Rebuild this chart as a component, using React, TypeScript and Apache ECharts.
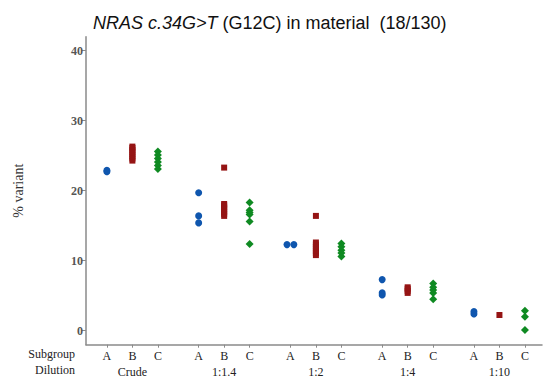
import React, { useEffect, useRef } from "react";
import * as echarts from "echarts";

const dilutions = ["Crude", "1:1.4", "1:2", "1:4", "1:10"];
const subgroups = ["A", "B", "C"];
const yTicks = [0, 10, 20, 30, 40];

// % variant per dilution (index matches dilutions)
const subgroupA: number[][] = [
  [22.7, 22.9],
  [19.7, 16.4, 15.4],
  [12.3, 12.3],
  [7.3, 5.4, 5.1],
  [2.75, 2.4],
];
const subgroupB: number[][] = [
  [24.3, 24.6, 24.9, 25.2, 25.5, 25.8, 26.1, 26.3],
  [23.3, 16.4, 16.7, 17.0, 17.3, 17.6, 17.9, 18.1],
  [16.4, 10.8, 11.1, 11.4, 11.7, 12.0, 12.3, 12.6],
  [5.4, 5.7, 6.0, 6.2],
  [2.24],
];
const subgroupC: number[][] = [
  [25.6, 25.1, 24.6, 24.1, 23.6, 23.1],
  [18.3, 17.2, 16.9, 16.6, 15.6, 12.4],
  [12.45, 12.0, 11.5, 11.1, 10.6],
  [6.75, 6.2, 5.8, 5.4, 4.5],
  [2.86, 2.0, 0.1],
];

const GROUP_STEP = 3.6;
const pos = (g: number, s: number) => g * GROUP_STEP + s;

function buildSeriesData(groups: number[][], s: number) {
  const out: number[][] = [];
  groups.forEach((vals, g) => {
    const seen: Record<string, number> = {};
    vals.forEach((v) => {
      const k = String(v);
      seen[k] = (seen[k] || 0) + 1;
    });
    const used: Record<string, number> = {};
    vals.forEach((v) => {
      const k = String(v);
      const n = seen[k];
      const i = used[k] || 0;
      used[k] = i + 1;
      const off = n > 1 ? (i - (n - 1) / 2) * 0.27 : 0;
      out.push([pos(g, s) + off, v]);
    });
  });
  return out;
}

const subPositions: number[] = [];
const subLabels: string[] = [];
dilutions.forEach((_, g) =>
  subgroups.forEach((sg, s) => {
    subPositions.push(pos(g, s));
    subLabels.push(sg);
  })
);
const dilPositions = dilutions.map((_, g) => pos(g, 1));

const labelFor = (positions: number[], labels: string[]) => (v: number) => {
  let best = -1;
  let bd = 1e9;
  positions.forEach((p, i) => {
    const d = Math.abs(p - v);
    if (d < bd) {
      bd = d;
      best = i;
    }
  });
  return bd < 0.01 ? labels[best] : "";
};

const serif = "'Liberation Serif', 'Times New Roman', serif";

export default function App() {
  const ref = useRef<HTMLDivElement>(null);
  useEffect(() => {
    if (!ref.current) return;
    const chart = echarts.init(ref.current, null, { renderer: "svg" });
    const axisLineStyle = { color: "#8a8a8a", width: 1.5 };
    chart.setOption({
      animation: false,
      backgroundColor: "#ffffff",
      title: {
        text: "{i|NRAS c.34G>T} (G12C) in material  (18/130)",
        left: 88,
        top: 9,
        textStyle: {
          fontFamily: "'Liberation Sans', Arial, sans-serif",
          fontSize: 18,
          fontWeight: "normal",
          color: "#111",
          rich: {
            i: {
              fontFamily: "'Liberation Sans', Arial, sans-serif",
              fontSize: 18,
              fontStyle: "italic",
              color: "#111",
            },
          },
        },
      },
      grid: {
        left: 86,
        right: 2,
        top: 36.7,
        bottom: 33.3,
        containLabel: false,
        outerBoundsMode: "none",
      },
      xAxis: [
        {
          type: "value",
          min: -0.82,
          max: 17.07,
          position: "bottom",
          splitLine: { show: false },
          axisLine: { show: true, onZero: false, lineStyle: axisLineStyle },
          axisTick: {
            show: true,
            length: 3,
            customValues: subPositions,
            lineStyle: { color: "#8a8a8a" },
          },
          axisLabel: {
            customValues: subPositions,
            formatter: labelFor(subPositions, subLabels),
            fontFamily: serif,
            fontSize: 12,
            color: "#222",
            margin: 5,
          },
        },
        {
          type: "value",
          min: -0.82,
          max: 17.07,
          position: "bottom",
          offset: 16,
          splitLine: { show: false },
          axisLine: { show: false },
          axisTick: { show: false },
          axisLabel: {
            customValues: dilPositions,
            formatter: labelFor(dilPositions, dilutions),
            fontFamily: serif,
            fontSize: 12,
            color: "#222",
            margin: 5,
          },
        },
      ],
      yAxis: {
        type: "value",
        min: -2,
        max: 42,
        name: "% variant",
        nameLocation: "middle",
        nameGap: 61,
        nameRotate: 90,
        nameTextStyle: { fontFamily: serif, fontSize: 14, color: "#333" },
        splitLine: { show: false },
        axisLine: { show: true, onZero: false, lineStyle: axisLineStyle },
        axisTick: {
          show: true,
          length: 4,
          customValues: yTicks,
          lineStyle: { color: "#8a8a8a" },
        },
        axisLabel: {
          customValues: yTicks,
          fontFamily: serif,
          fontSize: 12,
          fontWeight: "bold",
          color: "#555",
          margin: 3,
        },
      },
      graphic: [
        {
          type: "text",
          right: 544 - 75,
          top: 348,
          style: {
            text: "Subgroup",
            font: "12px " + serif,
            fill: "#222",
          },
        },
        {
          type: "text",
          right: 544 - 75,
          top: 364,
          style: {
            text: "Dilution",
            font: "12px " + serif,
            fill: "#222",
          },
        },
      ],
      series: [
        {
          type: "scatter",
          symbol: "circle",
          symbolSize: 7,
          itemStyle: { color: "#0f56ae", opacity: 1 },
          data: buildSeriesData(subgroupA, 0),
        },
        {
          type: "scatter",
          symbol: "rect",
          symbolSize: [6, 6],
          itemStyle: { color: "#951414", opacity: 1 },
          data: buildSeriesData(subgroupB, 1),
        },
        {
          type: "scatter",
          symbol: "diamond",
          symbolSize: 8,
          itemStyle: { color: "#0f8a22", opacity: 1 },
          data: buildSeriesData(subgroupC, 2),
        },
      ],
    });
    return () => chart.dispose();
  }, []);
  return (
    <div
      ref={ref}
      style={{ position: "fixed", left: 0, top: 0, width: 544, height: 378 }}
    />
  );
}
